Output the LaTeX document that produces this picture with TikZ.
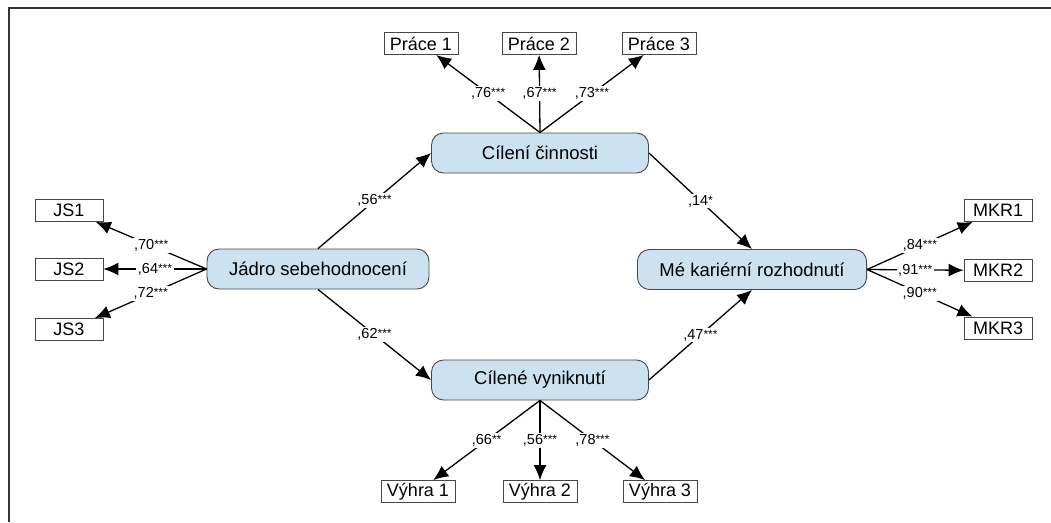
\documentclass[tikz,border=0pt]{standalone}
\usepackage{fontspec}
\setmainfont{Liberation Sans}
\usetikzlibrary{arrows.meta}
\definecolor{latfill}{RGB}{205,226,240}
\definecolor{latdraw}{RGB}{70,70,70}
\newcommand{\stars}[1]{\raisebox{1pt}{\fontsize{12}{12}\selectfont #1}}
\tikzset{
  lat/.style={draw=latdraw, line width=0.9pt, fill=latfill, rounded corners=12pt,
    minimum width=217pt, minimum height=40pt, inner xsep=22pt, font=\fontsize{18.5}{20}\selectfont},
  obs/.style={draw=latdraw, line width=0.8pt, fill=white, minimum width=68pt, minimum height=22pt,
    inner xsep=6pt, inner ysep=1pt, font=\fontsize{18}{20}\selectfont},
  pth/.style={line width=1.3pt, -{Latex[length=15pt,width=13pt]}},
  coef/.style={midway, fill=white, inner sep=1.5pt, font=\fontsize{14.5}{16}\selectfont},
  frameline/.style={draw=black!80, line width=1.8pt}
}
\begin{document}
\begin{tikzpicture}[x=1pt,y=-1pt]
\useasboundingbox (0,0) rectangle (1051,522);
\draw[frameline] (1051,8) -- (9,8) -- (9,522);
% latent
\node[lat] (cil) at (540,153) {Cílení činnosti};
\node[lat] (jad) at (318,269) {Jádro sebehodnocení};
\node[lat] (me) at (752,269.5) {Mé kariérní rozhodnutí};
\node[lat] (cv) at (540,380) {Cílené vyniknutí};
% observed
\node[obs] (p1) at (421,43.5) {Práce 1};
\node[obs] (p2) at (539,43.5) {Práce 2};
\node[obs] (p3) at (659,43.5) {Práce 3};
\node[obs] (v1) at (418,491.5) {Výhra 1};
\node[obs] (v2) at (540,491.5) {Výhra 2};
\node[obs] (v3) at (660,491.5) {Výhra 3};
\node[obs] (js1) at (69,210.5) {JS1};
\node[obs] (js2) at (69,269) {JS2};
\node[obs] (js3) at (69,329.5) {JS3};
\node[obs] (mk1) at (998,210.5) {MKR1};
\node[obs] (mk2) at (998,270.5) {MKR2};
\node[obs] (mk3) at (998,328) {MKR3};
% structural
\draw[pth] (jad.north) -- node[coef]{,56\stars{***}} (cil.west);
\draw[pth] (jad.south) -- node[coef]{,62\stars{***}} (cv.west);
\draw[pth] (cil.east) -- node[coef]{,14\stars{*}} (me.north);
\draw[pth] (cv.east) -- node[coef]{,47\stars{***}} (me.south);
% indicators
\draw[pth] (cil.north) -- node[coef]{,76\stars{***}} (p1);
\draw[pth] (cil.north) -- node[coef]{,67\stars{***}} (p2);
\draw[pth] (cil.north) -- node[coef]{,73\stars{***}} (p3);
\draw[pth] (cv.south) -- node[coef]{,66\stars{**}} (v1);
\draw[pth] (cv.south) -- node[coef]{,56\stars{***}} (v2);
\draw[pth] (cv.south) -- node[coef]{,78\stars{***}} (v3);
\draw[pth] (jad.west) -- node[coef]{,70\stars{***}} (js1);
\draw[pth] (jad.west) -- node[coef]{,64\stars{***}} (js2);
\draw[pth] (jad.west) -- node[coef]{,72\stars{***}} (js3);
\draw[pth] (me.east) -- node[coef]{,84\stars{***}} (mk1);
\draw[pth] (me.east) -- node[coef]{,91\stars{***}} (mk2);
\draw[pth] (me.east) -- node[coef]{,90\stars{***}} (mk3);
\end{tikzpicture}
\end{document}
